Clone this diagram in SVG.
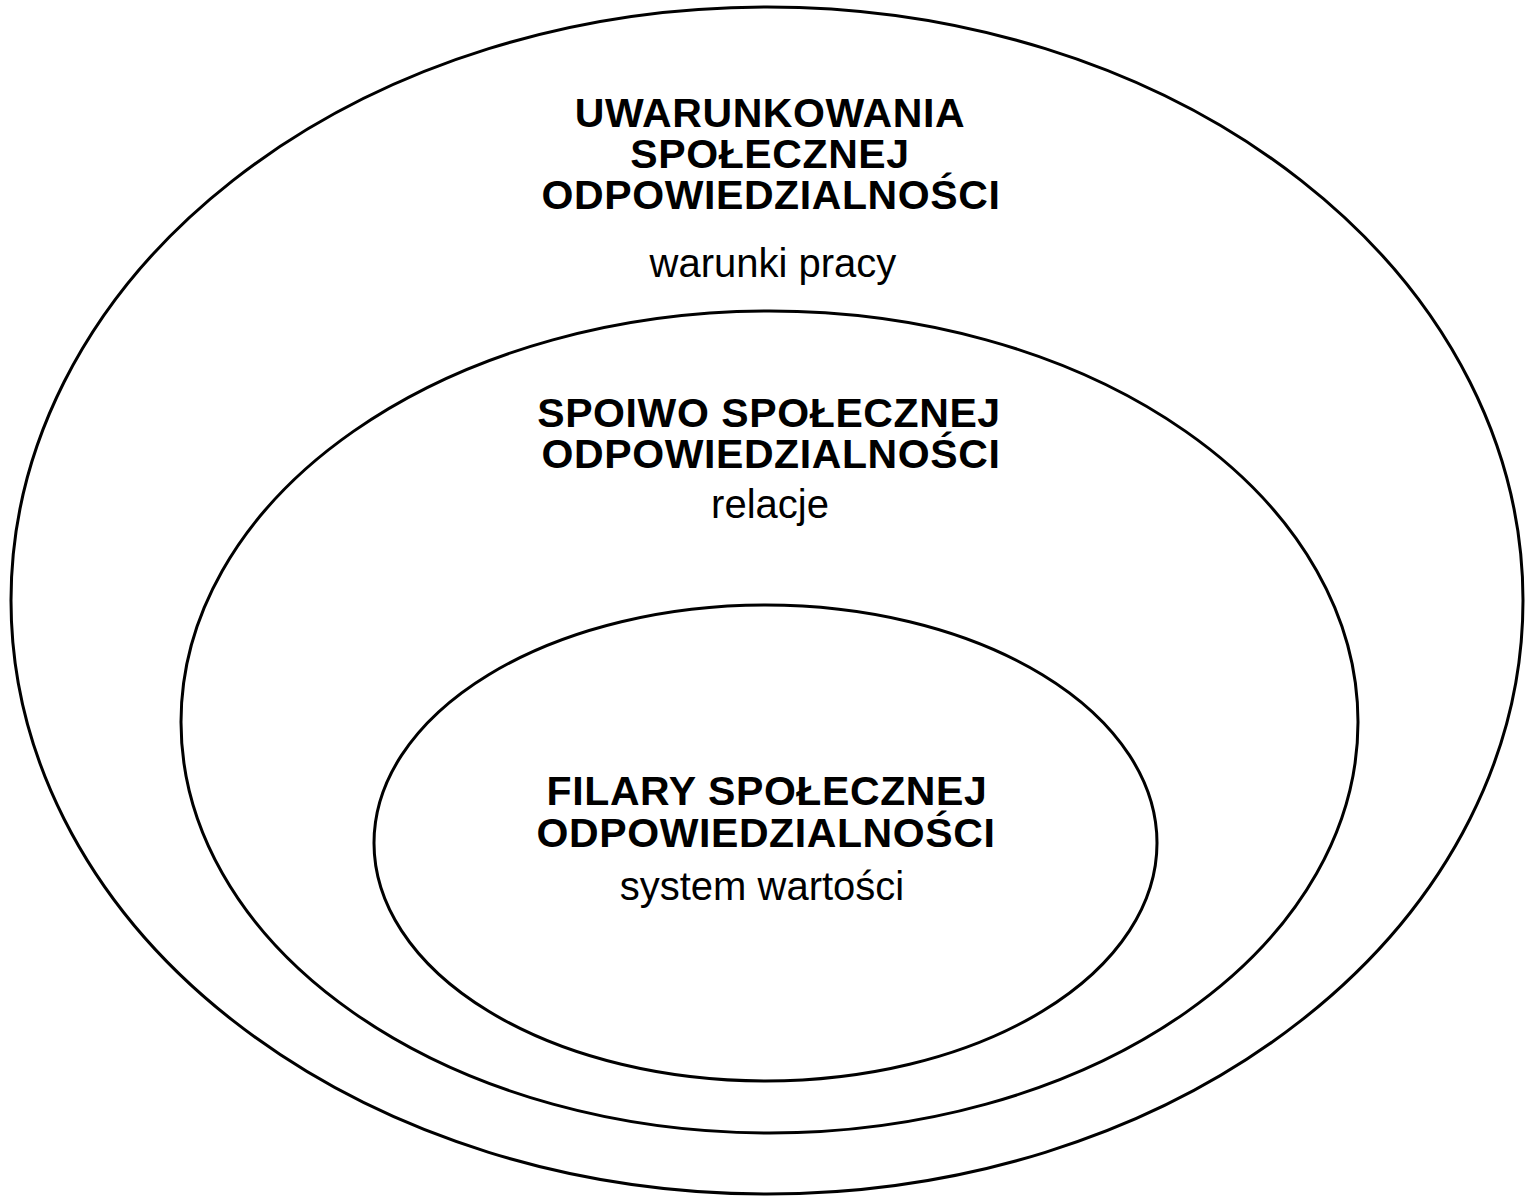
<svg xmlns="http://www.w3.org/2000/svg" width="1525" height="1197" viewBox="0 0 1525 1197">
<style>
.ring{fill:none;stroke:#000;stroke-width:3}
.t{font-family:"Liberation Sans",Arial,sans-serif;font-weight:bold;font-size:41px;letter-spacing:0.6px;text-anchor:middle;fill:#000}
.s{font-family:"Liberation Sans",Arial,sans-serif;font-size:40px;text-anchor:middle;fill:#000}
</style>
<rect width="1525" height="1197" fill="#fff"/>
<g id="outer">
<ellipse class="ring" cx="767" cy="600.5" rx="756" ry="593.5"/>
<text class="t" x="770" y="127"><tspan x="770">UWARUNKOWANIA</tspan><tspan x="770" dy="41">SPOŁECZNEJ</tspan><tspan x="771" dy="41">ODPOWIEDZIALNOŚCI</tspan></text>
<text class="s" x="773" y="277">warunki pracy</text>
</g>
<g id="middle">
<ellipse class="ring" cx="769.5" cy="722" rx="588.5" ry="411"/>
<text class="t" x="769" y="427"><tspan x="769">SPOIWO SPOŁECZNEJ</tspan><tspan x="771" dy="41">ODPOWIEDZIALNOŚCI</tspan></text>
<text class="s" x="770" y="518">relacje</text>
</g>
<g id="inner">
<ellipse class="ring" cx="765.5" cy="843" rx="391.5" ry="238"/>
<text class="t" x="767" y="805"><tspan x="767">FILARY SPOŁECZNEJ</tspan><tspan x="766" dy="42">ODPOWIEDZIALNOŚCI</tspan></text>
<text class="s" x="762" y="900">system wartości</text>
</g>
<g id="connectors"/>
</svg>
